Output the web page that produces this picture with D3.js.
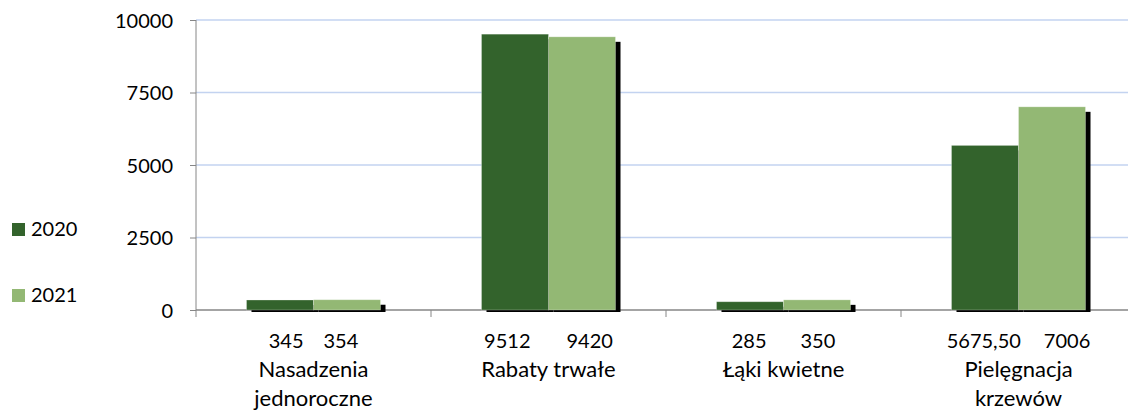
<!DOCTYPE html>
<html>
<head>
<meta charset="utf-8">
<script src="https://cdn.jsdelivr.net/npm/d3@7"></script>
<style>
  body { margin: 0; background: #fff; }
  svg text { font-family: Lato, 'Open Sans', sans-serif; fill: #000; }
</style>
</head>
<body>
<div id="chart"></div>
<script>
// data
const categories = ['Nasadzenia jednoroczne', 'Rabaty trwałe', 'Łąki kwietne', 'Pielęgnacja krzewów'];
const categoryLines = [['Nasadzenia', 'jednoroczne'], ['Rabaty trwałe'], ['Łąki kwietne'], ['Pielęgnacja', 'krzewów']];
const series = ['2020', '2021'];
const values2020 = [345, 9512, 285, 5675.5];
const values2021 = [354, 9420, 350, 7006];
const labels2020 = ['345', '9512', '285', '5675,50'];
const labels2021 = ['354', '9420', '350', '7006'];
const yTicks = [0, 2500, 5000, 7500, 10000];
const colors = ['#33632c', '#93b874'];

// gap between the two value labels under each category
const labelGap = [20, 36, 34, 23];

const W = 1128, H = 410;
const plot = { left: 196, right: 1136, top: 20, bottom: 310 };

const svg = d3.select('#chart').append('svg')
    .attr('width', W)
    .attr('height', H);

const x = d3.scaleBand().domain(categories).range([plot.left, plot.right]).padding(0);
const xs = d3.scaleBand().domain(series).range([50.5, 184.5]).padding(0);
const y = d3.scaleLinear().domain([0, 10000]).range([plot.bottom, plot.top]);

// gridlines
svg.append('g')
    .selectAll('line')
    .data(yTicks.filter(d => d > 0))
    .enter()
    .append('line')
    .attr('x1', plot.left).attr('x2', W)
    .attr('y1', d => y(d)).attr('y2', d => y(d))
    .style('stroke', '#c3d3f0')
    .style('stroke-width', 1.3);

// y axis
const yAxis = svg.append('g')
    .attr('transform', `translate(${plot.left},0)`)
    .call(d3.axisLeft(y).tickValues(yTicks).tickSize(6).tickPadding(17).tickFormat(d3.format('d')));
yAxis.select('.domain').remove();
yAxis.selectAll('.tick line').style('stroke', '#868686');
yAxis.selectAll('.tick text')
    .attr('font-size', '20px')
    .attr('dy', '0.36em')
    .style('font-family', 'Lato, sans-serif');
svg.append('line')
    .attr('x1', plot.left).attr('x2', plot.left)
    .attr('y1', plot.top).attr('y2', plot.bottom + 7)
    .style('stroke', '#868686');

// x axis line + ticks at band edges
svg.append('line')
    .attr('x1', plot.left).attr('x2', W)
    .attr('y1', plot.bottom).attr('y2', plot.bottom)
    .style('stroke', '#868686').style('stroke-width', 1.3);
svg.append('g')
    .selectAll('line')
    .data(categories)
    .enter()
    .append('line')
    .attr('x1', d => x(d) + x.bandwidth()).attr('x2', d => x(d) + x.bandwidth())
    .attr('y1', plot.bottom).attr('y2', plot.bottom + 7)
    .style('stroke', '#868686');

// bar data
const bars = [];
categories.forEach((c, i) => {
    bars.push({ cat: c, s: '2020', v: values2020[i], color: colors[0] });
    bars.push({ cat: c, s: '2021', v: values2021[i], color: colors[1] });
});

// shadows
svg.append('g')
    .selectAll('rect')
    .data(bars)
    .enter()
    .append('rect')
    .attr('x', d => x(d.cat) + xs(d.s) + 5)
    .attr('y', d => y(d.v) + 5)
    .attr('width', xs.bandwidth())
    .attr('height', d => Math.max(0, y(0) - y(d.v) - 3))
    .style('fill', '#000');

// bars
svg.append('g')
    .selectAll('rect')
    .data(bars)
    .enter()
    .append('rect')
    .attr('x', d => x(d.cat) + xs(d.s))
    .attr('y', d => y(d.v))
    .attr('width', xs.bandwidth())
    .attr('height', d => y(0) - y(d.v))
    .style('fill', d => d.color)
    .style('stroke', 'rgba(255,255,255,0.35)')
    .style('stroke-width', 0.8);

// category labels
const lab = svg.append('g');
categories.forEach((c, i) => {
    const cx = x(c) + x.bandwidth() / 2;
    const t = lab.append('text')
        .attr('x', cx)
        .attr('y', 348)
        .attr('text-anchor', 'middle')
        .attr('font-size', '20px');
    t.append('tspan').text(labels2020[i]);
    t.append('tspan').attr('dx', labelGap[i]).text(labels2021[i]);
    categoryLines[i].forEach((line, j) => {
        lab.append('text')
            .attr('x', cx)
            .attr('y', 377 + j * 28.5)
            .attr('text-anchor', 'middle')
            .attr('font-size', '22px')
            .text(line);
    });
});

// legend
const legend = svg.append('g')
    .selectAll('g')
    .data(series)
    .enter()
    .append('g')
    .attr('transform', (d, i) => `translate(12, ${223 + i * 66})`);
legend.append('rect')
    .attr('width', 13).attr('height', 13)
    .style('fill', (d, i) => colors[i]);
legend.append('text')
    .attr('x', 19)
    .attr('y', 13)
    .attr('font-size', '20px')
    .text(d => d);
</script>
</body>
</html>
